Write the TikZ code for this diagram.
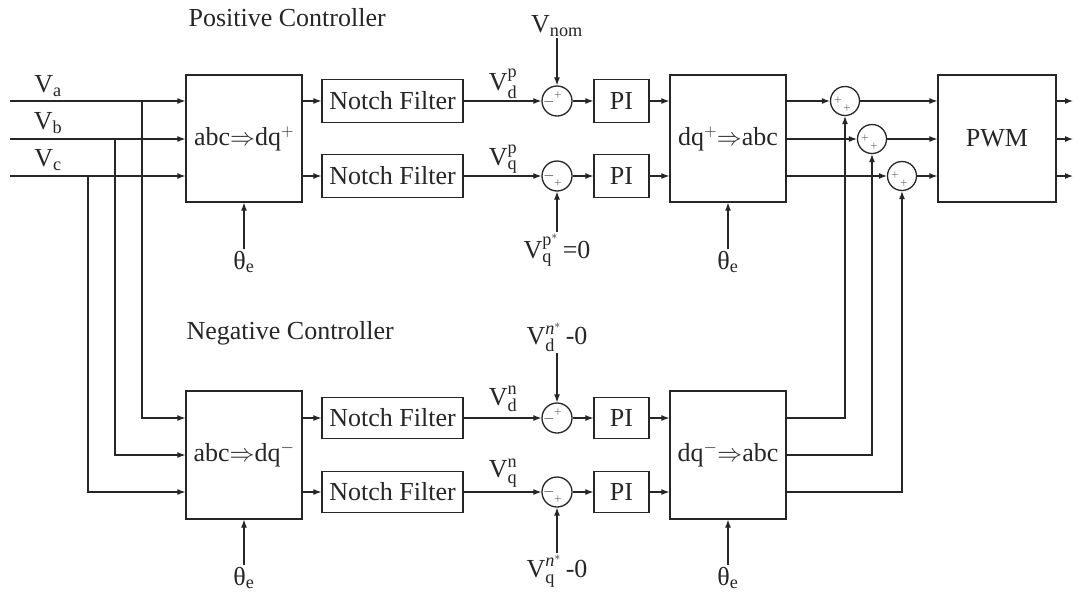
\documentclass[tikz,border=0pt]{standalone}
\usepackage{amsmath}
\usepackage{fontspec}
\setmainfont{Liberation Serif}
\usetikzlibrary{arrows.meta,calc}
\begin{document}
\begin{tikzpicture}[x=1pt,y=-1pt,
  color=black!85, line width=1.1pt,
  font=\fontsize{26}{29}\selectfont,
  box/.style={draw, line width=1.3pt, inner sep=0pt},
  sumc/.style={circle, draw, line width=1.3pt, minimum size=30pt, inner sep=0pt},
  arr/.style={-{Latex[length=8pt,width=6pt]}},
  lab/.style={inner sep=1pt},
  sgn/.style={font=\fontsize{10}{10}\selectfont, inner sep=0pt},
  msgn/.style={font=\fontsize{14}{14}\selectfont, inner sep=0pt}
]
\useasboundingbox (0,0) rectangle (1073,592);

% titles
\node[anchor=west, inner sep=0pt] (tpos) at (188,18) {Positive Controller};
\node[anchor=west, inner sep=0pt] (tneg) at (186,333) {Negative Controller};

% input labels
\node[lab] (la) at (48,86) {V$_{\text{a}}$};
\node[lab] (lb) at (48,123) {V$_{\text{b}}$};
\node[lab] (lc) at (48,160) {V$_{\text{c}}$};

% ---------- positive controller ----------
\node[box, minimum width=116pt, minimum height=127pt] (tA) at (244,138.5) {abc$\Rightarrow$dq$^{+}$};
\node[box, minimum width=141pt, minimum height=43pt] (nA1) at (392.5,101) {Notch Filter};
\node[box, minimum width=141pt, minimum height=43pt] (nA2) at (392.5,176) {Notch Filter};
\node[sumc] (sA1) at (557,101) {};
\node[sumc] (sA2) at (557,176) {};
\node[box, minimum width=55pt, minimum height=43pt] (pA1) at (621.5,101) {PI};
\node[box, minimum width=55pt, minimum height=43pt] (pA2) at (621.5,176) {PI};
\node[box, minimum width=116pt, minimum height=127pt] (iA) at (728,138.5) {dq$^{+}$$\Rightarrow$abc};
\node[sumc, minimum size=29pt] (s1) at (845,101) {};
\node[sumc, minimum size=29pt] (s2) at (872,139) {};
\node[sumc, minimum size=29pt] (s3) at (902,176) {};
\node[box, minimum width=118pt, minimum height=127pt] (pwm) at (997,138.5) {PWM};

\node[lab] (vdp) at (503,84) {$\text{V}^{\text{p}}_{\text{d}}$};
\node[lab] (vqp) at (503,159) {$\text{V}^{\text{p}}_{\text{q}}$};
\node[lab] (vnom) at (557,26) {V$_{\text{nom}}$};
\node[lab] (vqps) at (557,250) {$\text{V}^{\text{p}^{*}}_{\text{q}}$\,=0};
\node[lab] (thA) at (244,262) {θ$_{\text{e}}$};
\node[lab] (thAi) at (728,262) {θ$_{\text{e}}$};

% ---------- negative controller ----------
\node[box, minimum width=116pt, minimum height=128pt] (tB) at (244,455) {abc$\Rightarrow$dq$^{-}$};
\node[box, minimum width=141pt, minimum height=41pt] (nB1) at (392.5,418) {Notch Filter};
\node[box, minimum width=141pt, minimum height=41pt] (nB2) at (392.5,492) {Notch Filter};
\node[sumc] (sB1) at (557,418) {};
\node[sumc] (sB2) at (557,492) {};
\node[box, minimum width=55pt, minimum height=41pt] (pB1) at (621.5,418) {PI};
\node[box, minimum width=55pt, minimum height=41pt] (pB2) at (621.5,492) {PI};
\node[box, minimum width=116pt, minimum height=128pt] (iB) at (728,455) {dq$^{-}$$\Rightarrow$abc};

\node[lab] (vdn) at (503,399) {$\text{V}^{\text{n}}_{\text{d}}$};
\node[lab] (vqn) at (503,473) {$\text{V}^{\text{n}}_{\text{q}}$};
\node[lab] (vdns) at (557,337) {$\text{V}^{\textit{n}^{*}}_{\text{d}}$\,-0};
\node[lab] (vqns) at (557,571) {$\text{V}^{\textit{n}^{*}}_{\text{q}}$\,-0};
\node[lab] (thB) at (244,578) {θ$_{\text{e}}$};
\node[lab] (thBi) at (728,578) {θ$_{\text{e}}$};

% signs in summing junctions
\node[msgn] (mA1) at ($(sA1)+(-8,1)$) {$-$};
\node[sgn] (qA1) at ($(sA1)+(1,-6)$) {$+$};
\node[msgn] (mA2) at ($(sA2)+(-8,0)$) {$-$};
\node[sgn] (qA2) at ($(sA2)+(1,7)$) {$+$};
\node[msgn] (mB1) at ($(sB1)+(-8,1)$) {$-$};
\node[sgn] (qB1) at ($(sB1)+(1,-6)$) {$+$};
\node[msgn] (mB2) at ($(sB2)+(-8,0)$) {$-$};
\node[sgn] (qB2) at ($(sB2)+(1,7)$) {$+$};
\foreach \s in {s1,s2,s3}{
  \node[sgn] at ($(\s)+(-7,-1)$) {$+$};
  \node[sgn] at ($(\s)+(2,7)$) {$+$};
}

% inputs
\coordinate (ia) at (10,101);
\coordinate (ib) at (10,139);
\coordinate (ic) at (10,176);
\coordinate (ja) at (142,101);
\coordinate (jb) at (115,139);
\coordinate (jc) at (88,176);
\draw[arr] (ia) -- (ia -| tA.west);
\draw[arr] (ib) -- (ib -| tA.west);
\draw[arr] (ic) -- (ic -| tA.west);
\draw[arr] (ja) |- (tB.west |- nB1);
\draw[arr] (jb) |- (tB.west);
\draw[arr] (jc) |- (tB.west |- nB2);

% positive chain
\draw[arr] (tA.east |- nA1) -- (nA1.west);
\draw[arr] (tA.east |- nA2) -- (nA2.west);
\draw[arr] (nA1.east) -- (sA1.west);
\draw[arr] (nA2.east) -- (sA2.west);
\draw[arr] (sA1.east) -- (pA1.west);
\draw[arr] (sA2.east) -- (pA2.west);
\draw[arr] (pA1.east) -- (iA.west |- pA1);
\draw[arr] (pA2.east) -- (iA.west |- pA2);
\draw[arr] (vnom.south) -- (sA1.north);
\draw[arr] (vqps.north) -- (sA2.south);
\draw[arr] (thA.north) -- (tA.south);
\draw[arr] (thAi.north) -- (iA.south);

% negative chain
\draw[arr] (tB.east |- nB1) -- (nB1.west);
\draw[arr] (tB.east |- nB2) -- (nB2.west);
\draw[arr] (nB1.east) -- (sB1.west);
\draw[arr] (nB2.east) -- (sB2.west);
\draw[arr] (sB1.east) -- (pB1.west);
\draw[arr] (sB2.east) -- (pB2.west);
\draw[arr] (pB1.east) -- (iB.west |- pB1);
\draw[arr] (pB2.east) -- (iB.west |- pB2);
\draw[arr] (vdns.south) -- (sB1.north);
\draw[arr] (vqns.north) -- (sB2.south);
\draw[arr] (thB.north) -- (tB.south);
\draw[arr] (thBi.north) -- (iB.south);

% recombination
\draw[arr] (iA.east |- s1) -- (s1.west);
\draw[arr] (iA.east |- s2) -- (s2.west);
\draw[arr] (iA.east |- s3) -- (s3.west);
\draw[arr] (iB.east |- pB1) -| (s1.south);
\draw[arr] (iB.east) -| (s2.south);
\draw[arr] (iB.east |- pB2) -| (s3.south);
\draw[arr] (s1.east) -- (pwm.west |- s1);
\draw[arr] (s2.east) -- (pwm.west |- s2);
\draw[arr] (s3.east) -- (pwm.west |- s3);
\coordinate (oa) at (1073,101);
\coordinate (ob) at (1073,139);
\coordinate (oc) at (1073,176);
\draw[arr] (pwm.east |- oa) -- (oa);
\draw[arr] (pwm.east |- ob) -- (ob);
\draw[arr] (pwm.east |- oc) -- (oc);
\end{tikzpicture}
\end{document}
